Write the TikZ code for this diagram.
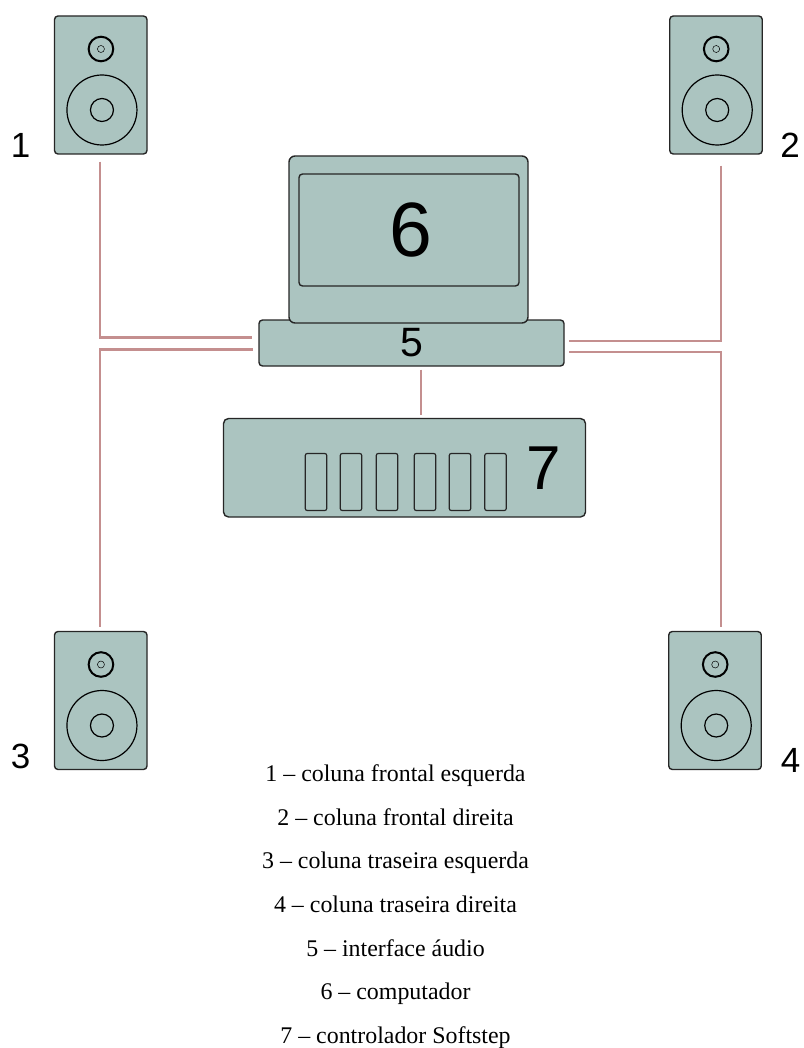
\documentclass[tikz,border=0pt]{standalone}
\usepackage{fontspec}
\setmainfont{Liberation Serif}
\newfontfamily\arialfont{Liberation Sans}
\usetikzlibrary{positioning,calc}
\definecolor{boxfill}{RGB}{171,196,192}
\definecolor{cablecol}{RGB}{196,143,143}
\tikzset{
	unit/.style = {draw=black!85, fill=boxfill, line width=1.4pt, rounded corners=3.5pt, inner sep=0pt, minimum width=#1},
	cable/.style = {cablecol, line width=2.7pt, line join=miter},
	numlabel/.style = {font=\arialfont\fontsize{35}{35}\selectfont, inner sep=0pt},
	legend/.style = {font=\fontsize{23.9}{28}\selectfont, inner sep=0pt, anchor=base}
}
% one loudspeaker: #1 name, #2 centre
\newcommand{\speaker}[2]{
	\node[unit=92.5pt, minimum height=138pt] (#1) at (#2) {};
	\draw[line width=2pt] ($(#1.center)+(.2,-36)$) circle (12.3pt); %tweeter
	\draw[line width=.5pt] ($(#1.center)+(.2,-36)$) circle (3.5pt);
	\draw[line width=1.2pt] ($(#1.center)+(1.2,25)$) circle (35pt); %woofer
	\draw[line width=1.2pt] ($(#1.center)+(1.2,25)$) circle (11.5pt);
}
\begin{document}
\begin{tikzpicture}[x=1pt, y=-1pt]
	\useasboundingbox (0,0) rectangle (803,1048);
	% loudspeakers
	\speaker{spkA}{100.75,85}
	\speaker{spkB}{716,85}
	\speaker{spkC}{100.75,700.5}
	\speaker{spkD}{715,700.5}
	\node[numlabel] (numA) at (20.5,145) {1};
	\node[numlabel] (numB) at (790,145.5) {2};
	\node[numlabel] (numC) at (20.5,756.5) {3};
	\node[numlabel] (numD) at (790.5,760.5) {4};
	% interface, computer, controller
	\node[unit=305pt, minimum height=46pt] (iface) at (411.5,343) {};
	\node[numlabel, font=\arialfont\fontsize{41}{41}\selectfont] (numE) at (411.5,343) {5};
	\node[unit=239pt, minimum height=167pt, rounded corners=6pt] (comp) at (408.5,239.5) {};
	\node[unit=220pt, minimum height=112pt] (screen) at (409,230) {};
	\node[numlabel, font=\arialfont\fontsize{77}{77}\selectfont] (numF) at (410.5,229.5) {6};
	\node[unit=362pt, minimum height=98.5pt, rounded corners=5pt] (ctrl) at (404.5,467.75) {};
	\node[numlabel, font=\arialfont\fontsize{62}{62}\selectfont] (numG) at (544,468) {7};
	\foreach \x/\n in {316/a,351/b,387/c,425/d,460/e,495.5/f}{
		\node[unit=21.5pt, minimum height=57pt, line width=1.2pt, rounded corners=2pt] (ped\n) at (\x,482) {};
	}
	% cables
	\coordinate (bendA) at (100,337.5);
	\coordinate (bendB) at (721,341);
	\coordinate (bendC) at (100,349.5);
	\coordinate (bendD) at (721,352);
	\draw[cable, shorten <=7pt, shorten >=6.5pt] (spkA.south -| bendA) -- (bendA) -- (bendA -| iface.west);
	\draw[cable, shorten <=11pt, shorten >=4.5pt] (spkB.south -| bendB) -- (bendB) -- (bendB -| iface.east);
	\draw[cable, shorten <=4pt, shorten >=5pt] (spkC.north -| bendC) -- (bendC) -- (bendC -| iface.west);
	\draw[cable, shorten <=4pt, shorten >=4.5pt] (spkD.north -| bendD) -- (bendD) -- (bendD -| iface.east);
	\coordinate (ctrlTop) at (421,418.5);
	\draw[cable, shorten <=3pt, shorten >=3.5pt] (iface.south -| ctrlTop) -- (ctrlTop);
	% legend
	\foreach \y/\t/\n in {781/1 -- coluna frontal esquerda/a,825/2 -- coluna frontal direita/b,868/3 -- coluna traseira esquerda/c,912/4 -- coluna traseira direita/d,956/5 -- interface áudio/e,999/6 -- computador/f,1043/7 -- controlador Softstep/g}{
		\node[legend] (leg\n) at (395.5,\y) {\t};
	}
\end{tikzpicture}
\end{document}
